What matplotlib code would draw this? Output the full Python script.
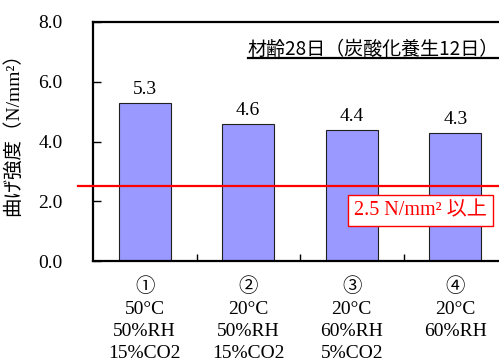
import matplotlib
matplotlib.use("Agg")
import matplotlib.pyplot as plt
from matplotlib.lines import Line2D

# Flexural strength after 28 days (12 days of carbonation curing)
conditions = ["①\n50°C\n50%RH\n15%CO2",
              "②\n20°C\n50%RH\n15%CO2",
              "③\n20°C\n60%RH\n5%CO2",
              "④\n20°C\n60%RH"]
strength = [5.3, 4.6, 4.4, 4.3]
required = 2.5
y_ticks = [0.0, 2.0, 4.0, 6.0, 8.0]

SERIF = ["Liberation Serif", "Noto Sans CJK JP", "DejaVu Sans"]
GOTHIC = ["Noto Sans CJK JP", "DejaVu Sans"]

fig = plt.figure(figsize=(4.99, 3.63), dpi=100)
ax = fig.add_axes([93 / 499, 1 - 261 / 363, 414 / 499, 239 / 363])

x = list(range(len(strength)))
ax.bar(x, strength, width=0.5, color="#9999FF", edgecolor="#202020",
       linewidth=0.8, zorder=2)

for xi, v in zip(x, strength):
    ax.annotate(f"{v:.1f}", (xi, v), xytext=(0, 3), textcoords="offset points",
                ha="center", va="bottom", fontsize=14, family=SERIF)

ax.set_xlim(-0.5, len(strength) - 0.5)
ax.set_ylim(0, 8)
ax.set_yticks(y_ticks)
ax.set_yticklabels([f"{t:.1f}" for t in y_ticks], family=SERIF, fontsize=14)

# category boundaries carry the x ticks; labels sit at the centres
ax.set_xticks([i + 0.5 for i in x[:-1]])
ax.set_xticklabels([])
ax.set_xticks(x, minor=True)
ax.set_xticklabels(conditions, minor=True, family=SERIF, fontsize=14,
                   linespacing=1.38, va="top")
ax.tick_params(axis="x", which="minor", length=0, pad=12)
ax.tick_params(axis="x", which="major", direction="in", length=5, width=1)
ax.tick_params(axis="y", direction="in", length=6, width=1, pad=22)

for side in ["top", "left", "bottom", "right"]:
    ax.spines[side].set_linewidth(1.6)

ax.set_ylabel("曲げ強度（N/mm²）", family=SERIF, fontsize=14)
ax.yaxis.set_label_coords(-0.172, 0.55)

# required strength line, running past the left spine
ax.add_line(Line2D([-0.645, 3.6], [required, required], color="red",
                   linewidth=1.6, clip_on=False, zorder=3))

ax.text(0.63, 0.21, f"{required} N/mm² 以上", transform=ax.transAxes,
        family=SERIF, fontsize=14.5, color="red", ha="left", va="center",
        zorder=4,
        bbox=dict(boxstyle="square,pad=0.3", facecolor="white",
                  edgecolor="red", linewidth=1.0))

title = ax.text(248 / 499, 1 - 49 / 363, "材齢28日（炭酸化養生12日）",
                transform=fig.transFigure, family=GOTHIC, fontsize=13.7,
                ha="left", va="center")

# underline the age label
fig.canvas.draw()
bb = title.get_window_extent()
inv = fig.transFigure.inverted()
(x0, y0), (x1, _) = inv.transform([(bb.x0, bb.y0), (bb.x1, bb.y0)])
fig.add_artist(Line2D([x0, x1], [y0 + 1 / 363, y0 + 1 / 363],
                      transform=fig.transFigure, color="black", linewidth=1.6))

fig.savefig("out.png", dpi=100)
